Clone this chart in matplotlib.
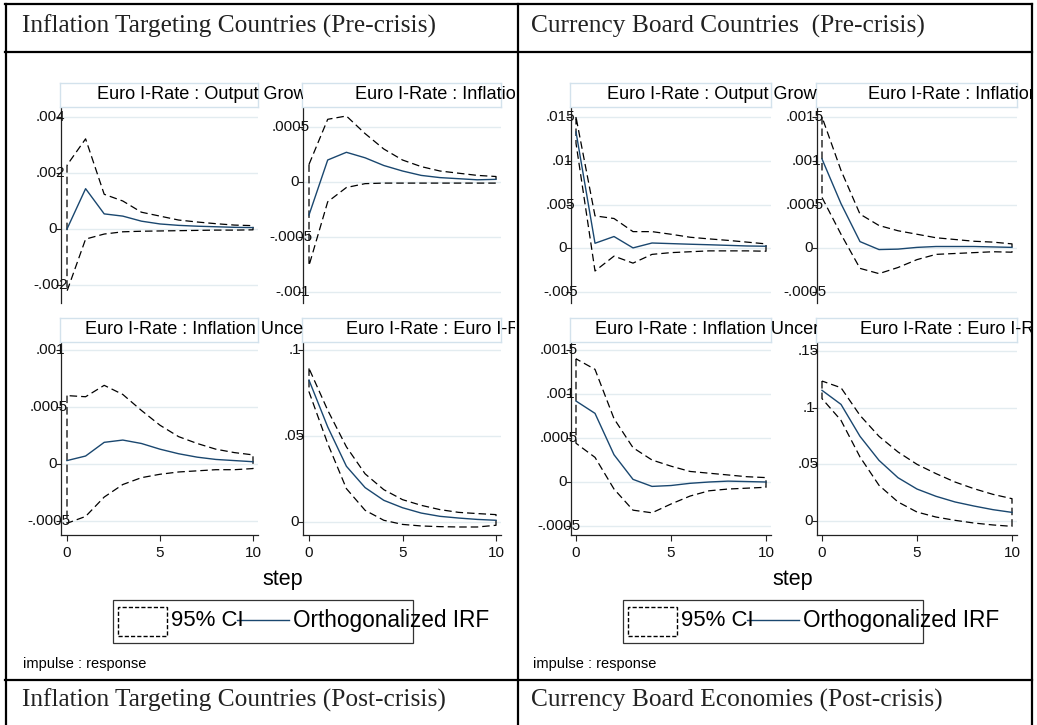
import matplotlib
matplotlib.use("Agg")
import matplotlib.pyplot as plt
import matplotlib.transforms as mtransforms
from matplotlib.patches import Rectangle
from matplotlib.lines import Line2D

plt.rcParams['font.family'] = ['Liberation Sans', 'DejaVu Sans']

# ---------------- data ----------------
steps = list(range(11))

header_titles = ["Inflation Targeting Countries (Pre-crisis)",
                 "Currency Board Countries  (Pre-crisis)",
                 "Inflation Targeting Countries (Post-crisis)",
                 "Currency Board Economies (Post-crisis)"]

panel_titles = ["Euro I-Rate : Output Growth", "Euro I-Rate : Inflation",
                "Euro I-Rate : Inflation Uncertainty", "Euro I-Rate : Euro I-Rate"]

# Inflation targeting, pre-crisis
it_out_irf = [0.0, .00144, .00054, .00046, .00028, .00018, .00013, .00010, .00008, .00006, .00005]
it_out_lo = [-.00222, -.00036, -.00018, -.00010, -.00008, -.00007, -.00006, -.00005, -.00004, -.00004, -.00003]
it_out_hi = [.00228, .00322, .00124, .00100, .00060, .00046, .00032, .00025, .00019, .00014, .00012]

it_inf_irf = [-.00030, .00020, .00027, .00022, .00015, .00010, .00006, .00004, .00003, .00002, .000024]
it_inf_lo = [-.00076, -.00018, -.00005, -.000015, -.00001, -.00001, -.00001, -.00001, -.00001, -.00001, -.00001]
it_inf_hi = [.00016, .00057, .00060, .00044, .00030, .00020, .00014, .00010, .00008, .00006, .00005]

it_unc_irf = [.00003, .00007, .00019, .00021, .00018, .00013, .00009, .00006, .00004, .00003, .00002]
it_unc_lo = [-.00052, -.00046, -.00029, -.00018, -.00012, -.00009, -.00007, -.00006, -.00005, -.00005, -.00004]
it_unc_hi = [.00060, .00059, .00069, .00061, .00047, .00034, .00024, .00018, .00013, .00010, .00008]

it_rate_irf = [.0825, .0553, .0324, .0200, .0126, .0083, .0052, .0033, .0023, .0015, .0010]
it_rate_lo = [.0757, .0456, .0194, .0068, .0010, -.0014, -.0023, -.0027, -.0029, -.0029, -.0019]
it_rate_hi = [.0893, .0650, .0437, .0280, .0188, .0130, .0097, .0072, .0056, .0049, .0043]

# Currency board, pre-crisis
cb_out_irf = [.0133, .00057, .00134, .00004, .00060, .00053, .00046, .00040, .00033, .00026, .00023]
cb_out_lo = [.0120, -.0026, -.0009, -.0017, -.0007, -.0005, -.0004, -.0003, -.0003, -.0003, -.00034]
cb_out_hi = [.0150, .0037, .0034, .0019, .0019, .0016, .00126, .00107, .0009, .0007, .0005]

cb_inf_irf = [.00102, .00051, .000076, -.000015, -.00001, .00001, .00002, .00002, .00002, .000015, .00001]
cb_inf_lo = [.00058, .00016, -.00023, -.00029, -.00022, -.00013, -.00007, -.00006, -.00005, -.00004, -.000045]
cb_inf_hi = [.00150, .00089, .00039, .00026, .00020, .00016, .00012, .00010, .00008, .00007, .00005]

cb_unc_irf = [.00092, .00078, .00031, .00003, -.00005, -.00004, -.000015, 0.0, .00001, .000005, 0.0]
cb_unc_lo = [.00044, .00028, -.00008, -.00032, -.00035, -.00025, -.00016, -.00010, -.00008, -.00007, -.00006]
cb_unc_hi = [.00140, .00128, .00072, .00039, .00025, .00018, .00012, .00010, .00008, .00006, .00005]

cb_rate_irf = [.1153, .1029, .0747, .0535, .0382, .0282, .0218, .0168, .0132, .0100, .0076]
cb_rate_lo = [.1080, .0888, .0565, .0315, .0168, .0079, .0035, .0006, -.0018, -.0035, -.0047]
cb_rate_hi = [.1235, .1176, .0932, .0747, .0609, .0500, .0418, .0344, .0285, .0235, .0197]

# y-axis ticks (values and Stata-style labels)
it_out_ticks = [-.002, 0, .002, .004]
it_out_labels = ["-.002", "0", ".002", ".004"]
it_inf_ticks = [-.001, -.0005, 0, .0005]
it_inf_labels = ["-.001", "-.0005", "0", ".0005"]
it_unc_ticks = [-.0005, 0, .0005, .001]
it_unc_labels = ["-.0005", "0", ".0005", ".001"]
it_rate_ticks = [0, .05, .1]
it_rate_labels = ["0", ".05", ".1"]
cb_out_ticks = [-.005, 0, .005, .01, .015]
cb_out_labels = ["-.005", "0", ".005", ".01", ".015"]
cb_inf_ticks = [-.0005, 0, .0005, .001, .0015]
cb_inf_labels = ["-.0005", "0", ".0005", ".001", ".0015"]
cb_unc_ticks = [-.0005, 0, .0005, .001, .0015]
cb_unc_labels = ["-.0005", "0", ".0005", ".001", ".0015"]
cb_rate_ticks = [0, .05, .1, .15]
cb_rate_labels = ["0", ".05", ".1", ".15"]

x_ticks = [0, 5, 10]
x_tick_labels = ["0", "5", "10"]

legend_labels = ["95% CI", "Orthogonalized IRF"]
xlabel = "step"
note = "impulse : response"

# ---------------- layout helpers ----------------
W, H = 1037, 725
fig = plt.figure(figsize=(W / 100, H / 100), dpi=100)
fig.patch.set_facecolor('white')

def fx(x):
    return x / W

def fy(y):
    return 1 - y / H

def axes_px(l, t, r, b, **kw):
    return fig.add_axes([fx(l), fy(b), (r - l) / W, (b - t) / H], **kw)

NAVY = '#1a476f'
GRID = '#e3ecf0'
BOXEDGE = '#d3e2ec'
AXC = '#222222'
DASH = (0, (6, 3.2))

def panel(l, t, r, b, x0px, x10px, tv, tpx, bv, bpx, ticks, labels,
          irf, lo, hi, title, title_x, title_top, clip_right, bottom_axis):
    ax = axes_px(l, t, r, b)
    ax.set_facecolor('white')
    slope = (tv - bv) / (bpx - tpx)
    ax.set_ylim(bv - (b - bpx) * slope, tv + (tpx - t) * slope)
    sx = 10.0 / (x10px - x0px)
    ax.set_xlim((l - x0px) * sx, 10 + (r - x10px) * sx)
    for s in ['top', 'right']:
        ax.spines[s].set_visible(False)
    ax.spines['left'].set_color(AXC)
    ax.spines['left'].set_linewidth(0.9)
    ax.set_yticks(ticks)
    ax.yaxis.grid(True, color=GRID, lw=1.0)
    ax.set_axisbelow(True)
    ax.tick_params(axis='y', length=3.5, width=0.8, color=AXC, labelleft=False)
    trans = mtransforms.blended_transform_factory(ax.transAxes, ax.transData)
    for v, lab in zip(ticks, labels):
        dx = (-4 + 2.7 * (len(lab) - 1)) / 100.0
        tr = trans + mtransforms.ScaledTranslation(dx, 0, fig.dpi_scale_trans)
        ax.text(0, v, lab, transform=tr, ha='right', va='center',
                fontsize=11, color='#111111')
    if bottom_axis:
        ax.spines['bottom'].set_color(AXC)
        ax.spines['bottom'].set_linewidth(0.9)
        ax.set_xticks(x_ticks)
        ax.set_xticklabels(x_tick_labels)
        ax.tick_params(axis='x', length=4, width=0.8, color=AXC, labelsize=11,
                       pad=4, labelcolor='#111111')
    else:
        ax.spines['bottom'].set_visible(False)
        ax.tick_params(axis='x', bottom=False, labelbottom=False)
    ax.fill_between(steps, lo, hi, facecolor='none', edgecolor='black',
                    linestyle=DASH, linewidth=0.9)
    ax.plot(steps, irf, color=NAVY, lw=1.0)
    # title box
    tax = axes_px(l - 1, title_top, r, t)
    tax.set_xticks([])
    tax.set_yticks([])
    tax.set_facecolor('white')
    for s in tax.spines.values():
        s.set_color(BOXEDGE)
        s.set_linewidth(1.0)
    txt = fig.text(fx(title_x), fy((title_top + t) / 2.0 - 0.5), title,
                   ha='left', va='center', fontsize=13.1, color='black')
    clip = mtransforms.TransformedBbox(
        mtransforms.Bbox.from_extents(fx(l), fy(t), fx(clip_right), fy(title_top)),
        fig.transFigure)
    txt.set_clip_box(clip)
    txt.set_clip_on(True)
    return ax

# ---- left graph (Inflation targeting) ----
panel(61, 107, 258, 303, 67, 253, .004, 117, -.002, 285, it_out_ticks, it_out_labels,
      it_out_irf, it_out_lo, it_out_hi, panel_titles[0], 97, 83, 303, False)
panel(303, 107, 501, 303, 309, 496, .0005, 127, -.001, 292, it_inf_ticks, it_inf_labels,
      it_inf_irf, it_inf_lo, it_inf_hi, panel_titles[1], 355, 83, 515, False)
panel(61, 342, 258, 535, 67, 253, .001, 350, -.0005, 521, it_unc_ticks, it_unc_labels,
      it_unc_irf, it_unc_lo, it_unc_hi, panel_titles[2], 85, 318, 303, True)
panel(303, 342, 501, 535, 309, 496, .1, 350, 0, 522, it_rate_ticks, it_rate_labels,
      it_rate_irf, it_rate_lo, it_rate_hi, panel_titles[3], 346, 318, 515, True)

# ---- right graph (Currency board) ----
panel(571, 107, 771, 303, 576, 766, .015, 117, -.005, 292, cb_out_ticks, cb_out_labels,
      cb_out_irf, cb_out_lo, cb_out_hi, panel_titles[0], 607, 83, 817, False)
panel(817, 107, 1017, 303, 822, 1012, .0015, 117, -.0005, 292, cb_inf_ticks, cb_inf_labels,
      cb_inf_irf, cb_inf_lo, cb_inf_hi, panel_titles[1], 868, 83, 1031, False)
panel(571, 342, 771, 535, 576, 766, .0015, 350, -.0005, 526, cb_unc_ticks, cb_unc_labels,
      cb_unc_irf, cb_unc_lo, cb_unc_hi, panel_titles[2], 595, 318, 817, True)
panel(817, 342, 1017, 535, 822, 1012, .15, 351, 0, 521, cb_rate_ticks, cb_rate_labels,
      cb_rate_irf, cb_rate_lo, cb_rate_hi, panel_titles[3], 860, 318, 1031, True)

# ---- x labels, legends, notes ----
for off in (0, 510):
    fig.text(fx(285 + off - 2), fy(579), xlabel, ha='center', va='center', fontsize=15.5)
    fig.add_artist(Rectangle((fx(113 + off), fy(643)), 300 / W, 43 / H, transform=fig.transFigure,
                             facecolor='white', edgecolor='#333333', lw=0.9))
    fig.add_artist(Rectangle((fx(118 + off), fy(636)), 49 / W, 29 / H, transform=fig.transFigure,
                             facecolor='none', edgecolor='black', lw=1.0, linestyle=(0, (3, 1.5))))
    fig.text(fx(171 + off), fy(621), legend_labels[0], ha='left', va='center', fontsize=16)
    fig.add_artist(Line2D([fx(237 + off), fx(289 + off)], [fy(620), fy(620)],
                          transform=fig.transFigure, color=NAVY, lw=1.0))
    fig.text(fx(293 + off), fy(621), legend_labels[1], ha='left', va='center', fontsize=16.3)
    fig.text(fx(23 + off), fy(664), note, ha='left', va='center', fontsize=10.5)

# ---- table frame ----
tl = dict(transform=fig.transFigure, color='black', lw=1.6)
fig.add_artist(Line2D([fx(5), fx(1032)], [fy(4), fy(4)], **tl))
fig.add_artist(Line2D([fx(5), fx(1032)], [fy(52), fy(52)], **tl))
fig.add_artist(Line2D([fx(5), fx(1032)], [fy(680), fy(680)], **tl))
fig.add_artist(Line2D([fx(6), fx(6)], [fy(4), fy(725)], **tl))
fig.add_artist(Line2D([fx(518), fx(518)], [fy(4), fy(725)], **tl))
fig.add_artist(Line2D([fx(1032), fx(1032)], [fy(4), fy(725)], **tl))

serif = ['Liberation Serif', 'DejaVu Serif']
hs = 18.3
fig.text(fx(22), fy(26), header_titles[0], ha='left', va='center', fontsize=hs,
         family=serif, color='#222222')
fig.text(fx(531), fy(26), header_titles[1], ha='left', va='center', fontsize=hs,
         family=serif, color='#222222')
fig.text(fx(22), fy(700), header_titles[2], ha='left', va='center', fontsize=hs,
         family=serif, color='#222222')
fig.text(fx(531), fy(700), header_titles[3], ha='left', va='center', fontsize=hs,
         family=serif, color='#222222')

fig.savefig('out.png', dpi=100, facecolor='white')
